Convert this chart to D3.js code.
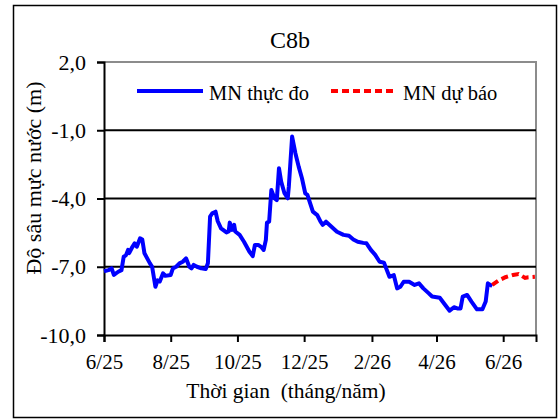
<!doctype html>
<html>
  <head>
    <meta charset="utf-8">
    <script src="https://d3js.org/d3.v7.min.js"></script>
  </head>
  <body style="margin: 0; background: #fff;">
    <div id="chart"></div>
    <script>
      // observed water depth (MN thực đo)
      const obsDates = ["2025-06-01","2025-06-05","2025-06-08","2025-06-10","2025-06-14","2025-06-17","2025-06-19","2025-06-21",
        "2025-06-23","2025-06-24","2025-06-27","2025-06-29","2025-07-01","2025-07-04","2025-07-06","2025-07-08","2025-07-13",
        "2025-07-15","2025-07-18","2025-07-20","2025-07-22","2025-07-25","2025-07-27","2025-08-01","2025-08-03","2025-08-06",
        "2025-08-09","2025-08-12","2025-08-15","2025-08-18","2025-08-20","2025-08-22","2025-08-25","2025-08-29","2025-09-02",
        "2025-09-04","2025-09-06","2025-09-08","2025-09-11","2025-09-13","2025-09-16","2025-09-21","2025-09-23","2025-09-24",
        "2025-09-26","2025-09-28","2025-09-29","2025-10-03","2025-10-07","2025-10-12","2025-10-15","2025-10-17","2025-10-20",
        "2025-10-23","2025-10-25","2025-10-27","2025-10-28","2025-10-30","2025-11-01","2025-11-04","2025-11-06","2025-11-08",
        "2025-11-10","2025-11-13","2025-11-16","2025-11-17","2025-11-20","2025-11-23","2025-11-26","2025-11-29","2025-12-02",
        "2025-12-04","2025-12-06","2025-12-09","2025-12-13","2025-12-16","2025-12-18","2025-12-21","2025-12-26","2025-12-31",
        "2026-01-06","2026-01-11","2026-01-15","2026-01-19","2026-01-24","2026-01-27","2026-01-31","2026-02-04","2026-02-08",
        "2026-02-12","2026-02-14","2026-02-17","2026-02-21","2026-02-24","2026-02-27","2026-03-02","2026-03-07","2026-03-12",
        "2026-03-16","2026-03-20","2026-03-25","2026-03-28","2026-04-04","2026-04-09","2026-04-13","2026-04-17","2026-04-20",
        "2026-04-23","2026-04-25","2026-04-29","2026-05-03","2026-05-08","2026-05-13","2026-05-16","2026-05-18","2026-05-22"]
      const obsDepth = [-7.2,-7.15,-7.07,-7.36,-7.22,-7.15,-6.56,-6.5,
        -6.26,-6.4,-6.12,-5.97,-6.12,-5.75,-5.8,-6.41,-6.85,
        -7.0,-7.88,-7.6,-7.65,-7.29,-7.4,-7.36,-7.07,-7.0,
        -6.85,-6.78,-6.63,-7.0,-7.07,-6.92,-7.0,-7.07,-7.1,
        -6.85,-4.8,-4.65,-4.58,-5.0,-5.31,-5.49,-5.45,-5.06,
        -5.38,-5.16,-5.45,-5.6,-5.9,-6.34,-6.53,-6.04,-6.04,
        -6.14,-6.26,-5.82,-5.06,-5.02,-3.63,-4.0,-4.07,-2.67,
        -3.26,-3.77,-3.99,-3.47,-1.28,-2.01,-2.6,-3.11,-3.77,
        -3.84,-4.14,-4.58,-4.73,-5.02,-5.16,-5.02,-5.24,-5.46,
        -5.6,-5.64,-5.8,-5.9,-5.95,-5.97,-6.26,-6.48,-6.78,
        -6.82,-7.07,-7.44,-7.37,-7.95,-7.88,-7.66,-7.66,-7.8,
        -7.73,-7.95,-8.17,-8.31,-8.36,-8.68,-8.93,-8.78,-8.83,
        -8.83,-8.31,-8.24,-8.53,-8.87,-8.87,-8.53,-7.73,-7.85]

      // forecast water depth (MN dự báo)
      const fcDates = ["2026-05-22","2026-05-28","2026-06-03","2026-06-10","2026-06-15","2026-06-18","2026-06-21","2026-06-24","2026-06-30"]
      const fcDepth = [-7.8,-7.6,-7.46,-7.36,-7.32,-7.4,-7.49,-7.46,-7.44]

      const tickDates = ["2025-06-01","2025-08-01","2025-10-01","2025-12-01","2026-02-01","2026-04-01","2026-06-01"]
      const depthTicks = [2, -1, -4, -7, -10]

      const width = 560
      const height = 420
      const plot = {left: 104, right: 536, top: 62, bottom: 335}

      // inline font style so nothing else can override it
      const serifStyle = size => `font-family: 'Liberation Serif', 'Times New Roman', serif !important; font-size: ${size}px !important; fill: #000;`

      const parse = d3.utcParse("%Y-%m-%d")
      const viLocale = d3.formatLocale({decimal: ",", thousands: ".", grouping: [3], currency: ["", ""], minus: "-"})
      const fmtDepth = viLocale.format(".1f")
      const fmtMonth = d3.utcFormat("%-m/%y")

      const svg = d3.select("#chart").append("svg")
        .attr("width", width)
        .attr("height", height)

      // outer frame
      svg.append("rect")
        .attr("x", 13.5).attr("y", 5.5)
        .attr("width", 543).attr("height", 412)
        .attr("fill", "none").attr("stroke", "#000").attr("stroke-width", 1.5)

      const x = d3.scaleUtc()
        .domain([parse("2025-06-01"), parse("2026-07-01")])
        .range([plot.left, plot.right])
      const y = d3.scaleLinear()
        .domain([-10, 2])
        .range([plot.bottom, plot.top])

      // plot area border (top and right, grey)
      svg.append("path")
        .attr("d", `M${plot.left},${plot.top}H${plot.right}V${plot.bottom}`)
        .attr("fill", "none").attr("stroke", "#8c8c8c").attr("stroke-width", 2)

      // horizontal gridlines
      svg.append("g")
        .selectAll("line")
        .data(depthTicks.filter(d => d > -10 && d < 2))
        .join("line")
          .attr("x1", plot.left).attr("x2", plot.right)
          .attr("y1", d => y(d)).attr("y2", d => y(d))
          .attr("stroke", "#000").attr("stroke-width", 2)

      // y axis
      const yAxis = svg.append("g")
        .attr("transform", `translate(${plot.left},0)`)
        .call(d3.axisLeft(y).tickValues(depthTicks).tickFormat(fmtDepth).tickSizeOuter(0).tickSize(7).tickPadding(11))
      yAxis.select(".domain").attr("stroke-width", 2)
      yAxis.selectAll(".tick line").attr("stroke-width", 2)
      yAxis.selectAll("text").attr("style", serifStyle(22))

      // x axis
      const xAxis = svg.append("g")
        .attr("transform", `translate(0,${plot.bottom})`)
        .call(d3.axisBottom(x).tickValues(tickDates.map(parse)).tickFormat(fmtMonth).tickSizeOuter(0).tickSize(7).tickPadding(12))
      xAxis.select(".domain").attr("stroke-width", 2)
      xAxis.selectAll(".tick line").attr("stroke-width", 2)
      xAxis.selectAll("text").attr("style", serifStyle(21))

      const line = d3.line()
        .x(d => x(d[0]))
        .y(d => y(d[1]))

      svg.append("path")
        .datum(obsDates.map((d, i) => [parse(d), obsDepth[i]]))
        .attr("d", line)
        .attr("fill", "none")
        .attr("stroke", "#0000ff")
        .attr("stroke-width", 4)
        .attr("stroke-linejoin", "round")

      svg.append("path")
        .datum(fcDates.map((d, i) => [parse(d), fcDepth[i]]))
        .attr("d", line)
        .attr("fill", "none")
        .attr("stroke", "#ff0000")
        .attr("stroke-width", 4)
        .attr("stroke-dasharray", "7,4")

      // legend
      const legend = svg.append("g")
      legend.append("line")
        .attr("x1", 137).attr("x2", 203).attr("y1", 91).attr("y2", 91)
        .attr("stroke", "#0000ff").attr("stroke-width", 4)
      legend.append("text")
        .attr("x", 209).attr("y", 100)
        .attr("style", serifStyle(20.5))
        .text("MN thực đo")
      legend.append("line")
        .attr("x1", 331).attr("x2", 397).attr("y1", 91).attr("y2", 91)
        .attr("stroke", "#ff0000").attr("stroke-width", 4).attr("stroke-dasharray", "7,4")
      legend.append("text")
        .attr("x", 403).attr("y", 100)
        .attr("style", serifStyle(20.5))
        .text("MN dự báo")

      // titles
      svg.append("text")
        .attr("x", 290).attr("y", 48)
        .attr("text-anchor", "middle")
        .attr("style", serifStyle(24))
        .text("C8b")

      svg.append("text")
        .attr("x", 286).attr("y", 398)
        .attr("text-anchor", "middle")
        .attr("style", serifStyle(21.5) + " white-space: pre;")
        .text("Thời gian  (tháng/năm)")

      svg.append("text")
        .attr("transform", "translate(41,178) rotate(-90)")
        .attr("text-anchor", "middle")
        .attr("style", serifStyle(22))
        .text("Độ sâu mực nước (m)")
    </script>
  </body>
</html>
